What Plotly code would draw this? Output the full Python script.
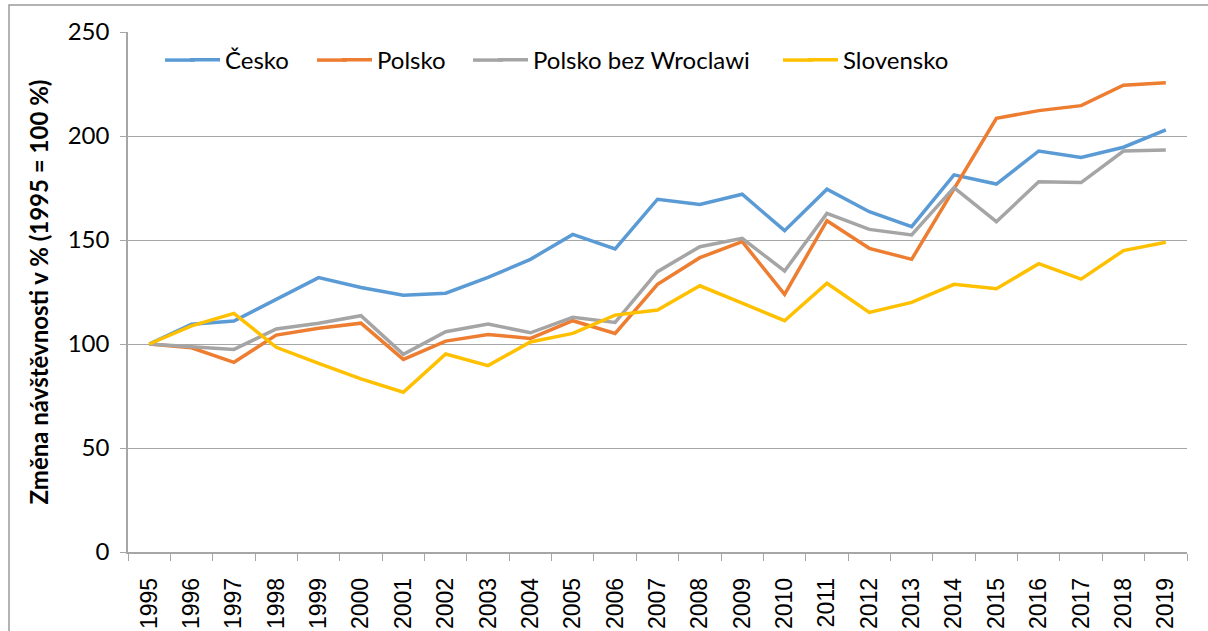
import plotly.graph_objects as go

years = [str(y) for y in range(1995, 2020)]

cesko = [100, 109.5, 111, 121.6, 131.9, 127.2, 123.4, 124.4, 132, 140.7, 152.7, 145.7,
         169.6, 167.1, 172, 154.5, 174.4, 163.6, 156.4, 181.3, 176.9, 192.8, 189.7, 194.6, 202.9]
polsko = [100, 98.2, 91.2, 104.3, 107.6, 110, 92.6, 101.4, 104.6, 102.7, 111.2, 105.1,
          128.7, 141.5, 149.2, 123.9, 159.3, 146, 140.7, 175, 208.5, 212.2, 214.6, 224.4, 225.6]
polsko_bez = [100, 98.6, 97.4, 107.2, 110, 113.6, 95, 105.9, 109.6, 105.4, 112.8, 110.4,
              134.8, 146.8, 150.8, 135.1, 162.8, 155.1, 152.4, 175.2, 158.8, 178, 177.6, 192.8, 193.3]
slovensko = [100, 108.7, 114.7, 98.4, 90.7, 83.2, 76.8, 95.2, 89.6, 101, 105.1, 113.9,
             116.3, 128, 119.6, 111.2, 129.2, 115.2, 120, 128.7, 126.6, 138.6, 131.2, 144.9, 148.9]

series = [
    ("Česko", cesko, "#5B9BD5"),
    ("Polsko", polsko, "#ED7D31"),
    ("Polsko bez Wroclawi", polsko_bez, "#A5A5A5"),
    ("Slovensko", slovensko, "#FFC000"),
]

W, H = 1208, 631
L, R, T, B = 128, 21, 32, 79
PW = W - L - R
PH = H - T - B

legend_names = ["legend", "legend2", "legend3", "legend4"]
text_starts = [225, 377, 533, 843]          # page x where legend text begins
legend_x = [(t - 40 - L) / PW for t in text_starts]
legend_y = 0.946

fig = go.Figure()
for (name, vals, col), lg in zip(series, legend_names):
    fig.add_trace(go.Scatter(x=years, y=vals, name=name, mode="lines", legend=lg,
                             line=dict(color=col, width=3.5)))

grid = "#a6a6a6"
legend_common = dict(orientation="h", y=legend_y, yanchor="middle", xanchor="left",
                     font=dict(size=24, family="Lato", color="black"),
                     bgcolor="rgba(0,0,0,0)")
layout_legends = {lg: dict(x=lx, **legend_common) for lg, lx in zip(legend_names, legend_x)}

fig.update_layout(
    width=W, height=H,
    margin=dict(l=L, r=R, t=T, b=B),
    paper_bgcolor="white", plot_bgcolor="white",
    font=dict(family="Lato, Open Sans, sans-serif", color="black", size=24),
    showlegend=True,
    xaxis=dict(type="category", range=[-0.5, 24.5], tickson="boundaries",
               ticks="outside", ticklen=7, tickcolor=grid, showline=True,
               linecolor=grid, linewidth=1.5, showgrid=False, tickangle=-90,
               tickfont=dict(family="Liberation Sans, Arial", size=23, color="black"),
               ticklabelstandoff=15, automargin=False),
    yaxis=dict(range=[0, 250], dtick=50, tick0=0, showgrid=True, gridcolor=grid,
               gridwidth=1.2, ticks="outside", ticklen=6, tickcolor=grid,
               showline=True, linecolor=grid, linewidth=1.5, zeroline=False,
               ticklabelstandoff=6, automargin=False,
               tickfont=dict(family="Lato", size=24, color="black"),
               title=dict(text="<b>Změna návštěvnosti v % (1995 = 100 %)</b>",
                          font=dict(family="Lato", size=24, color="black"),
                          standoff=12)),
    **layout_legends,
)

# lengthen legend line samples to the Excel-like length
for (name, vals, col), t in zip(series, text_starts):
    fig.add_shape(type="line", xref="paper", yref="paper",
                  x0=(t - 60 - L) / PW, x1=(t - 30 - L) / PW,
                  y0=legend_y, y1=legend_y,
                  line=dict(color=col, width=3.5), layer="above")

# outer chart frame (left and top edges)
fx = (9 - L) / PW
fy = 1 + (T - 5) / PH
fig.add_shape(type="rect", xref="paper", yref="paper",
              x0=fx, x1=1.1, y0=-0.3, y1=fy,
              line=dict(color="#9a9a9a", width=1.5), fillcolor="rgba(0,0,0,0)",
              layer="above")

fig.write_html("out.html", config={"displayModeBar": False},
               post_script="document.body.style.margin='0';document.body.style.overflow='hidden';")
